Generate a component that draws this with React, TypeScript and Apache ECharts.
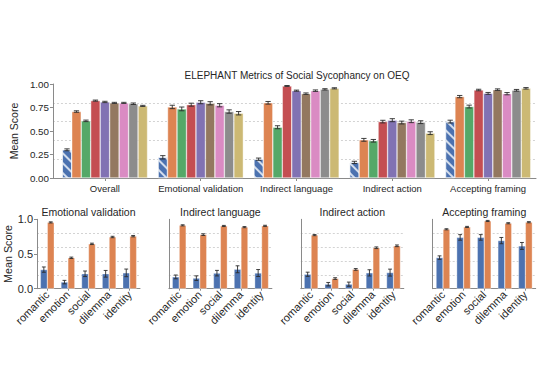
import React, { useEffect, useRef } from "react";
import * as echarts from "echarts";

// ---------- Top chart data ----------
const topCategories = ["Overall", "Emotional validation", "Indirect language", "Indirect action", "Accepting framing"];
const modelNames = ["Human", "Model A", "Model B", "Model C", "Model D", "Model E", "Model F", "Model G", "Model H"];
const modelColors = ["#4C72B0", "#DD8452", "#55A868", "#C44E52", "#8172B3", "#937860", "#DA8BC3", "#8C8C8C", "#CCB974"];

const humanTop = [0.30, 0.22, 0.20, 0.166, 0.60];
const modelATop = [0.707, 0.756, 0.80, 0.406, 0.866];
const modelBTop = [0.608, 0.735, 0.54, 0.396, 0.76];
const modelCTop = [0.823, 0.78, 0.979, 0.60, 0.936];
const modelDTop = [0.809, 0.806, 0.929, 0.615, 0.90];
const modelETop = [0.799, 0.795, 0.897, 0.59, 0.94];
const modelFTop = [0.799, 0.774, 0.929, 0.604, 0.897];
const modelGTop = [0.79, 0.707, 0.943, 0.594, 0.933];
const modelHTop = [0.767, 0.689, 0.954, 0.477, 0.954];

const humanTopErr = [0.01, 0.018, 0.012, 0.012, 0.015];
const modelATopErr = [0.008, 0.018, 0.014, 0.015, 0.012];
const modelBTopErr = [0.008, 0.02, 0.016, 0.014, 0.015];
const modelCTopErr = [0.006, 0.016, 0.005, 0.014, 0.008];
const modelDTopErr = [0.007, 0.016, 0.006, 0.016, 0.01];
const modelETopErr = [0.006, 0.017, 0.008, 0.015, 0.008];
const modelFTopErr = [0.006, 0.017, 0.008, 0.015, 0.012];
const modelGTopErr = [0.008, 0.018, 0.007, 0.015, 0.009];
const modelHTopErr = [0.006, 0.018, 0.006, 0.015, 0.008];

const topValues = [humanTop, modelATop, modelBTop, modelCTop, modelDTop, modelETop, modelFTop, modelGTop, modelHTop];
const topErrors = [humanTopErr, modelATopErr, modelBTopErr, modelCTopErr, modelDTopErr, modelETopErr, modelFTopErr, modelGTopErr, modelHTopErr];
const topTicks = [0, 0.25, 0.5, 0.75, 1.0];

// ---------- Bottom panels data ----------
const panelTitles = ["Emotional validation", "Indirect language", "Indirect action", "Accepting framing"];
const bottomCategories = ["romantic", "emotion", "social", "dilemma", "identity"];

const humanEmotional = [0.275, 0.095, 0.215, 0.215, 0.228];
const modelEmotional = [0.955, 0.445, 0.646, 0.745, 0.757];
const humanIndirectLang = [0.17, 0.152, 0.224, 0.28, 0.226];
const modelIndirectLang = [0.913, 0.779, 0.904, 0.887, 0.906];
const humanIndirectAction = [0.208, 0.065, 0.065, 0.228, 0.232];
const modelIndirectAction = [0.772, 0.146, 0.278, 0.59, 0.618];
const humanFraming = [0.448, 0.739, 0.739, 0.693, 0.616];
const modelFraming = [0.856, 0.89, 0.976, 0.943, 0.958];

const humanEmotionalErr = [0.038, 0.025, 0.04, 0.048, 0.055];
const modelEmotionalErr = [0.008, 0.01, 0.01, 0.01, 0.01];
const humanIndirectLangErr = [0.027, 0.033, 0.04, 0.05, 0.05];
const modelIndirectLangErr = [0.008, 0.012, 0.008, 0.008, 0.008];
const humanIndirectActionErr = [0.03, 0.025, 0.03, 0.045, 0.05];
const modelIndirectActionErr = [0.008, 0.012, 0.012, 0.012, 0.012];
const humanFramingErr = [0.025, 0.04, 0.04, 0.045, 0.05];
const modelFramingErr = [0.008, 0.008, 0.008, 0.008, 0.008];

const panelHuman = [humanEmotional, humanIndirectLang, humanIndirectAction, humanFraming];
const panelModel = [modelEmotional, modelIndirectLang, modelIndirectAction, modelFraming];
const panelHumanErr = [humanEmotionalErr, humanIndirectLangErr, humanIndirectActionErr, humanFramingErr];
const panelModelErr = [modelEmotionalErr, modelIndirectLangErr, modelIndirectActionErr, modelFramingErr];
const bottomTicks = [0, 0.5, 1.0];

const FONT = "'Liberation Sans', Arial, sans-serif";
const TEXT = "#262626";
const AXIS = "#8a8a8a";
const GRIDLINE = "#c8c8c8";

function errorBarSeries(xAxisIndex: number, yAxisIndex: number, data: number[][], nBars: number, gapFrac: number) {
  return {
    type: "custom",
    xAxisIndex,
    yAxisIndex,
    silent: true,
    z: 10,
    data,
    encode: { x: 0, y: 2 },
    renderItem: (_params: any, api: any) => {
      const cat = api.value(0);
      const k = api.value(1);
      const v = api.value(2);
      const e = api.value(3);
      const band = api.size([1, 0])[0];
      const groupW = band * (1 - gapFrac);
      const barW = groupW / nBars;
      const c = api.coord([cat, v]);
      const x = c[0] - groupW / 2 + barW * (k + 0.5);
      const yTop = api.coord([cat, v + e])[1];
      const yBot = api.coord([cat, v - e])[1];
      const cap = Math.max(barW * 0.28, 1.6);
      const style = { stroke: "#2b2b2b", lineWidth: 0.9 };
      return {
        type: "group",
        children: [
          { type: "line", shape: { x1: x, y1: yTop, x2: x, y2: yBot }, style },
          { type: "line", shape: { x1: x - cap, y1: yTop, x2: x + cap, y2: yTop }, style },
          { type: "line", shape: { x1: x - cap, y1: yBot, x2: x + cap, y2: yBot }, style },
        ],
      };
    },
  };
}

export default function App() {
  const ref = useRef<HTMLDivElement>(null);

  useEffect(() => {
    if (!ref.current) return;
    const chart = echarts.init(ref.current, null, { renderer: "svg" });

    const topGap = 0.11;
    const bottomGap = 0.33;

    const grids: any[] = [
      { left: 40, right: 4, top: 84, height: 94 }, // frame grid (axes, gridlines)
      { left: 57, right: 4, top: 84, height: 94 }, // bars grid
    ];
    const xAxes: any[] = [
      {
        gridIndex: 0, type: "value", min: 0, max: 1,
        axisLine: { show: true, lineStyle: { color: AXIS, width: 1 } },
        axisTick: { show: false }, axisLabel: { show: false }, splitLine: { show: false },
      },
      {
        gridIndex: 1, type: "category", data: topCategories,
        axisLine: { show: false },
        axisTick: { show: true, alignWithLabel: true, length: 3, lineStyle: { color: AXIS } },
        axisLabel: { color: TEXT, fontSize: 9.5, fontFamily: FONT, margin: 5, interval: 0 },
        splitLine: { show: false },
      },
    ];
    const yAxes: any[] = [
      {
        gridIndex: 0, type: "value", min: 0, max: 1, interval: 0.25,
        name: "Mean Score", nameLocation: "middle", nameGap: 26,
        nameTextStyle: { color: TEXT, fontSize: 10.5, fontFamily: FONT },
        axisLine: { show: true, lineStyle: { color: AXIS } },
        axisTick: { show: true, length: 3, lineStyle: { color: AXIS } },
        axisLabel: {
          color: TEXT, fontSize: 9.8, fontFamily: FONT, margin: 4,
          formatter: (v: number) => (topTicks.includes(v) ? v.toFixed(2) : ""),
        },
        splitLine: { show: false },
      },
      {
        gridIndex: 0, type: "value", min: 0, max: 1, interval: 0.2, position: "left",
        axisLine: { show: false }, axisTick: { show: false }, axisLabel: { show: false },
        splitLine: { show: true, showMinLine: false, showMaxLine: false, lineStyle: { color: GRIDLINE, type: [2, 2], width: 0.8 } },
      },
      {
        gridIndex: 1, type: "value", min: 0, max: 1, show: false,
      },
    ];

    const series: any[] = [];
    topValues.forEach((vals, i) => {
      const itemStyle: any = { color: modelColors[i], borderColor: "rgba(255,255,255,0.85)", borderWidth: 0.5 };
      if (i === 0) {
        itemStyle.decal = {
          symbol: "rect", symbolSize: 1, dashArrayX: [1, 0], dashArrayY: [1.2, 4.5],
          rotation: Math.PI / 4, color: "rgba(255,255,255,0.75)",
        };
      }
      series.push({
        type: "bar", name: modelNames[i], xAxisIndex: 1, yAxisIndex: 2,
        data: vals, barGap: "0%", barCategoryGap: `${topGap * 100}%`, itemStyle, silent: true,
      });
    });
    const topErrData: number[][] = [];
    topValues.forEach((vals, i) => vals.forEach((v, c) => topErrData.push([c, i, v, topErrors[i][c]])));
    series.push(errorBarSeries(1, 2, topErrData, topValues.length, topGap));

    // bottom panels
    const panelLeft0 = 37;
    const panelStep = 131.9;
    const panelWidth = 103;
    const graphics: any[] = [
      {
        type: "text", x: 297, y: 75,
        style: { text: "ELEPHANT Metrics of Social Sycophancy on OEQ", textAlign: "center", textVerticalAlign: "middle", fontSize: 10, fontFamily: FONT, fill: TEXT },
      },
    ];

    panelTitles.forEach((title, p) => {
      const gi = grids.length;
      const left = panelLeft0 + panelStep * p;
      grids.push({ left, width: panelWidth, top: 219.3, height: 69.4 });
      graphics.push({
        type: "text", x: left + panelWidth / 2, y: 212,
        style: { text: title, textAlign: "center", textVerticalAlign: "middle", fontSize: 10.5, fontFamily: FONT, fill: TEXT },
      });
      const xi = xAxes.length;
      xAxes.push({
        gridIndex: gi, type: "category", data: bottomCategories,
        axisLine: { show: true, lineStyle: { color: AXIS } },
        axisTick: { show: true, alignWithLabel: true, length: 2, lineStyle: { color: AXIS } },
        axisLabel: { color: TEXT, fontSize: 11, fontFamily: FONT, rotate: 45, margin: 4, interval: 0 },
      });
      const yi = yAxes.length;
      yAxes.push({
        gridIndex: gi, type: "value", min: 0, max: 1, interval: 0.5,
        name: p === 0 ? "Mean Score" : "", nameLocation: "middle", nameGap: 21,
        nameTextStyle: { color: TEXT, fontSize: 10.8, fontFamily: FONT },
        axisLine: { show: true, lineStyle: { color: AXIS } },
        axisTick: { show: p === 0, length: 3, lineStyle: { color: AXIS } },
        axisLabel: {
          show: p === 0, color: TEXT, fontSize: 11, fontFamily: FONT, margin: 4,
          formatter: (v: number) => (bottomTicks.includes(v) ? v.toFixed(1) : ""),
        },
        splitLine: { show: false },
      });
      yAxes.push({
        gridIndex: gi, type: "value", min: 0, max: 1, interval: 0.2,
        axisLine: { show: false }, axisTick: { show: false }, axisLabel: { show: false },
        splitLine: { show: true, showMinLine: false, showMaxLine: false, lineStyle: { color: GRIDLINE, type: [2, 2], width: 0.8 } },
      });
      const pairs = [
        { vals: panelHuman[p], errs: panelHumanErr[p], color: modelColors[0], name: "Human" },
        { vals: panelModel[p], errs: panelModelErr[p], color: modelColors[1], name: "Model" },
      ];
      const errData: number[][] = [];
      pairs.forEach((s, k) => {
        series.push({
          type: "bar", name: s.name, xAxisIndex: xi, yAxisIndex: yi, data: s.vals,
          barGap: "0%", barCategoryGap: `${bottomGap * 100}%`, silent: true,
          itemStyle: { color: s.color, borderColor: "rgba(255,255,255,0.85)", borderWidth: 0.4 },
        });
        s.vals.forEach((v, c) => errData.push([c, k, v, s.errs[c]]));
      });
      series.push(errorBarSeries(xi, yi, errData, 2, bottomGap));
    });

    chart.setOption({
      animation: false,
      backgroundColor: "#ffffff",
      textStyle: { fontFamily: FONT },
      grid: grids,
      xAxis: xAxes,
      yAxis: yAxes,
      series,
      graphic: graphics,
    });

    return () => chart.dispose();
  }, []);

  return (
    <div
      ref={ref}
      style={{ position: "absolute", left: 0, top: 0, width: 540, height: 372, background: "#fff" }}
    />
  );
}
